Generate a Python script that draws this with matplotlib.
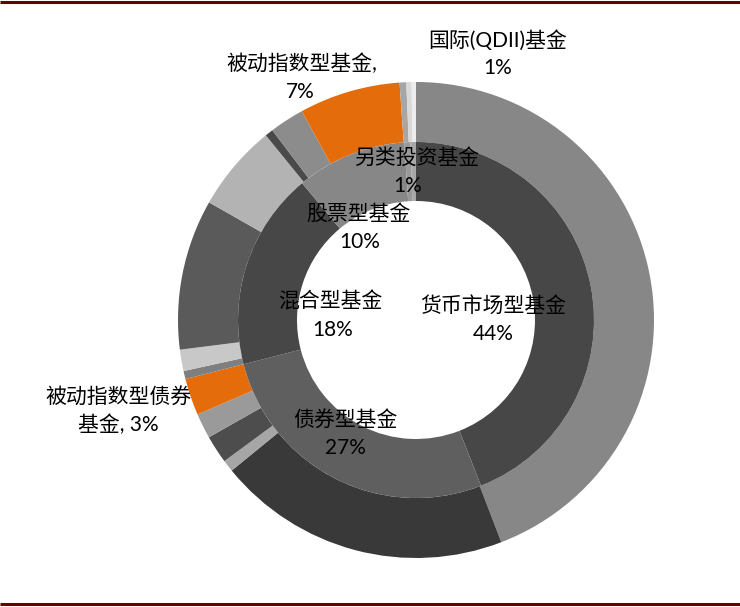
import matplotlib
matplotlib.use("Agg")
import matplotlib.pyplot as plt

# ---- data ----
inner_labels = ["货币市场型基金", "债券型基金", "混合型基金", "股票型基金", "另类投资基金", "国际(QDII)基金"]
inner_values = [44.05, 26.95, 17.95, 10.0, 0.55, 0.5]
inner_pct = ["44%", "27%", "18%", "10%", "1%", "1%"]

outer_labels = ["", "", "", "", "", "被动指数型债券基金", "", "", "", "", "", "", "被动指数型基金", "", "", ""]
outer_values = [44.1, 19.9, 0.8, 1.9, 1.7, 2.5, 0.55, 1.45, 10.2, 5.9, 0.55, 2.35, 6.85, 0.45, 0.35, 0.3]
outer_pct = ["", "", "", "", "", "3%", "", "", "", "", "", "", "7%", "", "", ""]

# ---- styles ----
inner_colors = ["#474747", "#5f5f5f", "#474747", "#878787", "#999999", "#a8a8a8"]
outer_colors = ["#878787", "#393939", "#a6a6a6", "#4d4d4d", "#9a9a9a", "#e46c0a",
                "#7f7f7f", "#c8c8c8", "#5a5a5a", "#b3b3b3", "#4a4a4a", "#8c8c8c",
                "#e46c0a", "#a6a6a6", "#d9d9d9", "#ededed"]

W, H = 740, 607
fig = plt.figure(figsize=(W / 100, H / 100), dpi=100)
ax = fig.add_axes([0, 0, 1, 1])
cx, cy = 416, H - 320

ax.pie(outer_values, colors=outer_colors, radius=238, center=(cx, cy),
       startangle=90, counterclock=False,
       wedgeprops=dict(width=60, linewidth=0, antialiased=True))
ax.pie(inner_values, colors=inner_colors, radius=178, center=(cx, cy),
       startangle=90, counterclock=False,
       wedgeprops=dict(width=59, linewidth=0, antialiased=True))

ax.set_xlim(0, W)
ax.set_ylim(0, H)
ax.set_aspect("equal")
ax.axis("off")

fam = ["Lato", "Noto Sans CJK SC", "DejaVu Sans"]
fs = 15

def lab(x, y, s):
    ax.text(x, H - y, s, ha="center", va="center", fontsize=fs, family=fam, color="black")

# inner ring labels (name / pct)
pos_inner = {
    0: ((493, 306), (493, 334)),
    1: ((345, 420), (345, 448)),
    2: ((330, 302), (333, 330)),
    3: ((358, 214), (360, 242)),
    4: ((418, 158), (408, 186)),
    5: ((498, 40), (498, 68)),
}
for i, ((x1, y1), (x2, y2)) in pos_inner.items():
    lab(x1, y1, inner_labels[i])
    lab(x2, y2, inner_pct[i])

# outer ring labels
lab(302, 64, outer_labels[12] + ",")
lab(300, 92, outer_pct[12])
lab(118, 397, outer_labels[5][:7])
lab(118, 425, outer_labels[5][7:] + ", " + outer_pct[5])

# dark red rules top and bottom
ax.plot([0, W], [H - 1.5, H - 1.5], color="#660000", lw=2.2, solid_capstyle="butt")
ax.plot([0, W], [H - 604, H - 604], color="#660000", lw=2.2, solid_capstyle="butt")

fig.savefig("out.png", dpi=100, facecolor="white")
